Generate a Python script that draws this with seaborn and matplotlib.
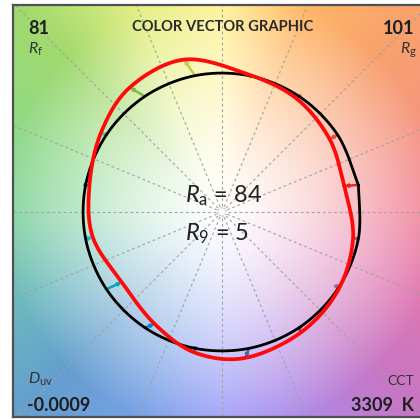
import numpy as np
import pandas as pd
import matplotlib
matplotlib.use("Agg")
import matplotlib.pyplot as plt
import seaborn as sns

# ---- data -------------------------------------------------------------
bin_centers = [11.25 + 22.5 * k for k in range(16)]            # hue-bin centres (deg)
ref_radius = [1.0] * 16                                          # reference gamut (normalised)
test_angle = [12, 34, 57, 80, 104, 126.5, 147, 169,
              191, 215, 239, 259, 279, 303, 326, 349]            # test hue angle (deg)
test_radius = [0.90, 0.935, 0.977, 1.01, 1.13, 1.115, 1.04, 0.972,
               0.947, 0.88, 0.94, 1.03, 1.063, 1.036, 1.007, 0.961]
bin_colors = ["#e62828", "#e74b4b", "#fb812e", "#ffb529", "#cbca46", "#7eb94c",
              "#41c0ab", "#009c7c", "#16bcd2", "#00a4bf", "#0085c3", "#3b62aa",
              "#4568ae", "#6a4e85", "#9d69a1", "#a74f81"]

Rf, Rg, Ra, R9 = 81, 101, 84, 5
Duv, CCT = "-0.0009", 3309
title = "COLOR VECTOR GRAPHIC"

# background hue wheel anchors (angle deg -> colour at r = 1.5)
bg_angles = [0, 22.5, 45, 67.5, 90, 112.5, 135, 157.5,
             180, 202.5, 225, 247.5, 270, 292.5, 315, 337.5]
bg_colors = ["#f28ea2", "#f69c8c", "#f9a878", "#ffbc72", "#fff29c", "#e6f08e",
             "#a8dc78", "#98dc90", "#90d8a8", "#78c0c2", "#70a6d2", "#80a8e8",
             "#a6a6f8", "#b692e8", "#cc80c8", "#e282b6"]

# ---- figure setup -----------------------------------------------------
sns.set_theme(style="white")
plt.rcParams["font.family"] = ["Lato", "DejaVu Sans"]
plt.rcParams["mathtext.fontset"] = "custom"
plt.rcParams["mathtext.rm"] = "Lato"
plt.rcParams["mathtext.it"] = "Lato:italic"

W, H = 420, 419
fig = plt.figure(figsize=(W / 100, H / 100), dpi=100)
cx, cy, R = 222.0, 212.0, 139.0          # centre and unit radius in pixels
left_px, right_px, top_px, bot_px = 13, 432, 5, 417
ax = fig.add_axes([left_px / W, (H - bot_px) / H,
                   (right_px - left_px) / W, (bot_px - top_px) / H])
xlim = ((left_px - cx) / R, (right_px - cx) / R)
ylim = ((cy - bot_px) / R, (cy - top_px) / R)

# background colour wheel
gx = np.linspace(xlim[0], xlim[1], 420)
gy = np.linspace(ylim[0], ylim[1], 420)
XX, YY = np.meshgrid(gx, gy)
ang = np.degrees(np.arctan2(YY, XX)) % 360
rad = np.hypot(XX, YY)
rgb = np.array([matplotlib.colors.to_rgb(c) for c in bg_colors])
a_ext = np.array(bg_angles + [360.0])
rgb_ext = np.vstack([rgb, rgb[:1]])
full = np.stack([np.interp(ang, a_ext, rgb_ext[:, k]) for k in range(3)], axis=-1)
f = np.clip((rad / 1.5) ** 1.35, 0, 1.08)[..., None]
img = np.clip(1 - (1 - full) * f, 0, 1)
ax.imshow(img, extent=[xlim[0], xlim[1], ylim[0], ylim[1]], origin="lower",
          interpolation="bilinear", zorder=0, aspect="auto")

# radial bin boundaries
for k in range(16):
    t = np.radians(22.5 * k)
    ax.plot([0.04 * np.cos(t), 3 * np.cos(t)], [0.04 * np.sin(t), 3 * np.sin(t)],
            color="#a2a2a2", lw=0.8, ls=(0, (2.5, 2.5)), zorder=1)
ax.add_patch(plt.Circle((0, 0), 0.03, fill=False, ec="#a8a8a8", lw=0.8,
                        ls=(0, (1.5, 1.5)), zorder=1))


def smooth_open(px, py, n=30):
    """Catmull-Rom curve through the points, ends tangent to first/last chord."""
    P = np.column_stack([px, py])
    Pe = np.vstack([P[0], P, P[-1]])
    out = []
    tt = np.linspace(0, 1, n, endpoint=False)
    for i in range(1, len(Pe) - 2):
        p0, p1, p2, p3 = Pe[i - 1], Pe[i], Pe[i + 1], Pe[i + 2]
        m1 = (p2 - p0) / 2
        m2 = (p3 - p1) / 2
        h00 = 2 * tt**3 - 3 * tt**2 + 1
        h10 = tt**3 - 2 * tt**2 + tt
        h01 = -2 * tt**3 + 3 * tt**2
        h11 = tt**3 - tt**2
        seg = (h00[:, None] * p1 + h10[:, None] * m1 +
               h01[:, None] * p2 + h11[:, None] * m2)
        out.append(seg)
    out.append(P[-1][None, :])
    s = np.vstack(out)
    return s[:, 0], s[:, 1]


ref_t = np.radians(bin_centers)
rx = np.array(ref_radius) * np.cos(ref_t)
ry = np.array(ref_radius) * np.sin(ref_t)
tst_t = np.radians(test_angle)
tx = np.array(test_radius) * np.cos(tst_t)
ty = np.array(test_radius) * np.sin(tst_t)

# hue-shift arrows from reference to test
for k in range(16):
    ax.annotate("", xy=(tx[k], ty[k]), xytext=(rx[k], ry[k]),
                arrowprops=dict(arrowstyle="-|>", color=bin_colors[k], lw=1.8,
                                mutation_scale=4, shrinkA=0, shrinkB=0),
                zorder=2)

bx, by = smooth_open(np.append(rx, rx[0]), np.append(ry, ry[0]))
sx, sy = smooth_open(np.append(tx, tx[0]), np.append(ty, ty[0]))
ref_df = pd.DataFrame({"x": bx, "y": by, "step": np.arange(len(bx))})
tst_df = pd.DataFrame({"x": sx, "y": sy, "step": np.arange(len(sx))})
sns.lineplot(data=ref_df, x="x", y="y", sort=False, estimator=None,
             color="black", lw=2.0, ax=ax, zorder=3)
sns.lineplot(data=tst_df, x="x", y="y", sort=False, estimator=None,
             color="#ff0a0a", lw=2.7, ax=ax, zorder=4)

ax.set_xlim(*xlim)
ax.set_ylim(*ylim)
ax.set_xticks([])
ax.set_yticks([])
ax.set_xlabel("")
ax.set_ylabel("")
for sp in ax.spines.values():
    sp.set_visible(True)
    sp.set_color("#505050")
    sp.set_linewidth(1.6)


def ftext(px, py, s, **kw):
    fig.text(px / W, 1 - py / H, s, va="baseline", **kw)


dark = "#1e1e1e"
ftext(28, 34, f"{Rf}", fontsize=13, fontweight="bold", color=dark)
ftext(28, 54, r"$R_\mathrm{f}$", fontsize=11.5, color="#333333")
ftext(223, 31, title, fontsize=10.6, fontweight="bold", color="#2a2a2a", ha="center")
ftext(414, 34, f"{Rg}", fontsize=13, fontweight="bold", color=dark, ha="right")
ftext(417, 54, r"$R_\mathrm{g}$", fontsize=11.5, color="#333333", ha="right")
ftext(28, 384, r"$D_\mathrm{uv}$", fontsize=11.5, color="#333333")
ftext(27, 411, Duv, fontsize=13, fontweight="bold", color=dark)
ftext(414, 385, "CCT", fontsize=10, color="#333333", ha="right")
ftext(414, 411, f"{CCT}  K", fontsize=13, fontweight="bold", color=dark, ha="right")
ftext(185, 202, rf"$R_\mathrm{{a}}$ = {Ra}", fontsize=17, color="#222222")
ftext(185, 240, rf"$R_9$ = {R9}", fontsize=17, color="#222222")

fig.savefig("out.png", dpi=100)
